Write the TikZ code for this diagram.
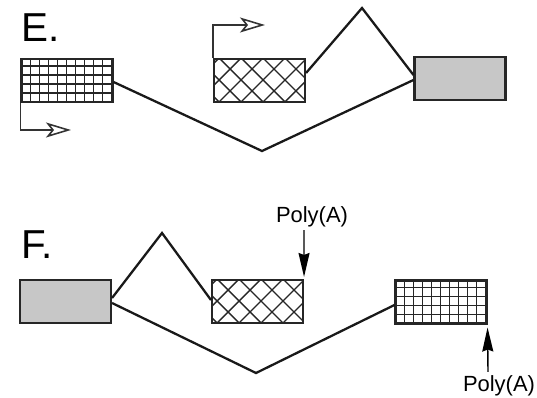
\documentclass[tikz,border=0pt]{standalone}
\usepackage{fontspec}
\setmainfont{Liberation Sans}
\usetikzlibrary{arrows.meta,calc}
\begin{document}
\begin{tikzpicture}[x=0.02cm,y=-0.02cm,
  exon/.style={draw=black!85,line width=1.2pt,minimum width=1.82cm,minimum height=0.86cm,inner sep=0pt},
  plain/.style={exon,fill=black!22},
  gridbox/.style={exon,fill=white,path picture={
    \foreach \k in {1,...,10} \draw[black!85,line width=1.1pt] ([xshift=\k*0.18cm]path picture bounding box.south west) -- ++(0,1cm);
    \foreach \k in {1,...,5} \draw[black!85,line width=1.1pt] ([yshift=\k*0.18cm]path picture bounding box.south west) -- ++(2cm,0);}},
  crossbox/.style={exon,fill=white,path picture={
    \foreach \k in {-4,...,9} {
      \draw[black!85,line width=0.8pt] ([xshift=\k*0.44cm+0.1cm]path picture bounding box.south west) -- ++(1.5cm,1.5cm);
      \draw[black!85,line width=0.8pt] ([xshift=\k*0.44cm+0.1cm]path picture bounding box.south west) -- ++(-1.5cm,1.5cm);}}},
  intron/.style={black!90,line width=1.3pt,line join=miter},
  promoter/.style={black!80,line width=0.9pt,-{Stealth[open,length=0.5cm,width=0.3cm,inset=0.12cm]}},
  polya/.style={black,line width=0.8pt,-{Stealth[length=0.48cm,width=0.22cm,inset=0.04cm]}},
  lab/.style={font=\fontsize{23}{26}\selectfont,inner sep=0pt},
  plab/.style={font=\fontsize{12.5}{14}\selectfont,inner sep=0pt}]
\useasboundingbox (0,0) rectangle (537,398);
% panel E
\node[lab,anchor=north west] (Elab) at (21,13) {E.};
\node[gridbox] (E1) at (67,80.5) {};
\node[crossbox] (E2) at (259.5,80.5) {};
\node[plain] (E3) at (460,78.5) {};
\coordinate (Ev) at (262,151);
\coordinate (Ep) at (362,8);
\draw[intron] ([yshift=-0.03cm]E1.east) -- (Ev) -- ([yshift=-0.03cm]E3.west);
\draw[intron] ([yshift=0.15cm]E2.east) -- (Ep) -- ([yshift=0.07cm]E3.west);
\coordinate (Ep1) at (71,130);
\coordinate (Ep2) at (265,25);
\draw[promoter] (E1.south west) |- (Ep1);
\draw[promoter] (E2.north west) |- (Ep2);
% panel F
\node[lab,anchor=north west] (Flab) at (21,230) {F.};
\node[plain] (F1) at (65.5,301.5) {};
\node[crossbox] (F2) at (257.5,301.5) {};
\node[gridbox] (F3) at (441,302) {};
\coordinate (Fp) at (162,233);
\coordinate (Fv) at (256,373);
\draw[intron] ([yshift=0.07cm]F1.east) -- (Fp) -- ([yshift=0.03cm]F2.west);
\draw[intron] ([yshift=-0.03cm]F1.east) -- (Fv) -- ([yshift=-0.06cm]F3.west);
\node[plab] (PA1) at (312,217) {Poly(A)};
\node[plab] (PA2) at (499,386) {Poly(A)};
\draw[polya] ([xshift=-0.16cm,yshift=-0.05cm]PA1.south) -- ([yshift=0.04cm]F2.north east);
\draw[polya] ([xshift=-0.22cm,yshift=0.07cm]PA2.north) -- ([yshift=-0.06cm]F3.south east);
\end{tikzpicture}
\end{document}
